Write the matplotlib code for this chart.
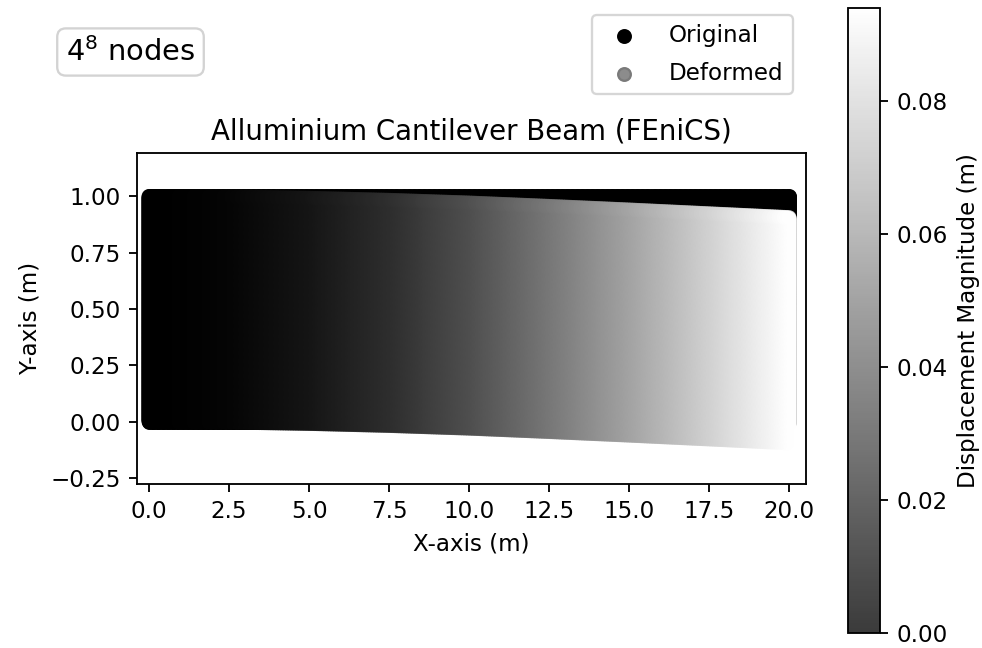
import numpy as np
import matplotlib
matplotlib.use("Agg")
import matplotlib.pyplot as plt

# beam geometry and mesh (4^8 nodes -> 256 x 256 grid)
beam_length = 20.0
beam_height = 1.0
nodes_x = 256
nodes_y = 256

# vertical deflection read along the beam (m), downward positive
station_x = [0.0, 2.5, 5.0, 7.5, 10.0, 12.5, 15.0, 17.5, 20.0]
deflection = [0.000, 0.002, 0.008, 0.017, 0.029, 0.044, 0.060, 0.077, 0.094]

xs = np.linspace(0, beam_length, nodes_x)
ys = np.linspace(0, beam_height, nodes_y)
X, Y = np.meshgrid(xs, ys)
X = X.ravel()
Y = Y.ravel()

uy = -np.interp(X, station_x, deflection)
mag = np.abs(uy)
Xd = X
Yd = Y + uy

W, H = 982, 648
dpi = 166
fig = plt.figure(figsize=(W / dpi, H / dpi), dpi=dpi)

def px_axes(left, top, right, bottom):
    return fig.add_axes([left / W, 1 - bottom / H, (right - left) / W, (bottom - top) / H])

ax = px_axes(137, 153, 806, 484)
cax = px_axes(848, 8, 880, 632.7)

ax.scatter(X, Y, s=30, color='black', label='Original')
sc = ax.scatter(Xd, Yd, s=30, c=mag, cmap='gray', alpha=0.77, label='Deformed')

ax.set_xlim(-0.375, 20.53)
ax.set_ylim(-0.277, 1.193)
ax.set_title("Alluminium Cantilever Beam (FEniCS)", fontsize=12)
ax.set_xlabel("X-axis (m)")
ax.set_ylabel("Y-axis (m)")

cb = fig.colorbar(sc, cax=cax)
cb.set_label("Displacement Magnitude (m)")
cb.set_ticks([0.0, 0.02, 0.04, 0.06, 0.08])

leg = fig.legend(loc='upper right', bbox_to_anchor=(793 / W, 1 - 15 / H),
                 bbox_transform=fig.transFigure, borderaxespad=0,
                 labelspacing=0.63, handletextpad=0.95)
dh = leg.legend_handles[1]
dh.set_array(None)
dh.set_alpha(1)
dh.set_facecolor('#8c8c8c')
dh.set_edgecolor('#7a7a7a')

fig.text(130.5 / W, 1 - 52 / H, r"$4^8$ nodes", fontsize=12.5, ha='center', va='center',
         bbox=dict(boxstyle='round', facecolor='white', edgecolor='lightgray'))

fig.savefig("out.png", dpi=dpi)
